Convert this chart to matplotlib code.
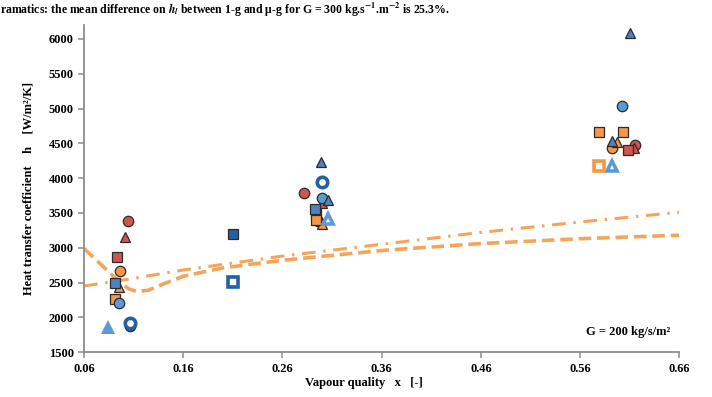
import matplotlib
matplotlib.use("Agg")
import matplotlib.pyplot as plt

plt.rcParams["font.family"] = ["Liberation Serif", "DejaVu Serif"]
plt.rcParams["font.weight"] = "bold"
plt.rcParams["mathtext.fontset"] = "stix"

# measured points: (vapour quality, h)
red_circle = ([0.104, 0.282, 0.615], [3390, 3790, 4480])
red_triangle = ([0.101, 0.300, 0.614], [3150, 3640, 4440])
red_square = ([0.093, 0.294, 0.608], [2870, 3480, 4410])
orange_circle = ([0.096, 0.296, 0.592], [2660, 3380, 4440])
orange_triangle = ([0.095, 0.300, 0.597], [2430, 3340, 4520])
orange_square = ([0.091, 0.294, 0.579, 0.603], [2270, 3400, 4660, 4670])
blue_square = ([0.091, 0.293], [2500, 3560])
blue_circle = ([0.095, 0.300, 0.602], [2200, 3710, 5040])
blue_triangle = ([0.299, 0.306, 0.592, 0.610], [4230, 3690, 4540, 6080])
navy_open_circle = ([0.106, 0.300], [1920, 3950])
navy_circle = ([0.106], [1870])
navy_square = ([0.210], [3200])
navy_open_square = ([0.210], [2510])
light_triangle = ([0.0845], [1860])
light_open_triangle = ([0.306, 0.592], [3410, 4180])
orange_open_square = ([0.579], [4180])

# model curves
dash_x = [0.06, 0.08, 0.095, 0.105, 0.113, 0.125, 0.14, 0.16, 0.20, 0.26, 0.36, 0.46, 0.56, 0.66]
dash_y = [2990, 2720, 2520, 2410, 2370, 2390, 2480, 2590, 2710, 2820, 2960, 3060, 3130, 3180]
dashdot_x = [0.06, 0.11, 0.16, 0.26, 0.36, 0.46, 0.56, 0.66]
dashdot_y = [2450, 2560, 2680, 2880, 3050, 3220, 3370, 3510]

x_ticks = [0.06, 0.16, 0.26, 0.36, 0.46, 0.56, 0.66]
y_ticks = [1500, 2000, 2500, 3000, 3500, 4000, 4500, 5000, 5500, 6000]

RED = "#cc5652"
ORANGE = "#f79646"
BLUE = "#4f81bd"
LIGHT = "#5b9bd5"
NAVY = "#2461a0"
EDGE = "#2b2b2b"
LINE = "#f5a55a"

fig = plt.figure(figsize=(7.12, 3.97), dpi=100)
ax = fig.add_axes([0.118, 0.113, 0.836, 0.824])

ax.plot(dash_x, dash_y, color=LINE, lw=2.6, dashes=(3.5, 1.6), zorder=1)
ax.plot(dashdot_x, dashdot_y, color=LINE, lw=2.2, dashes=(4.5, 2.5, 0.8, 2.5), zorder=1)

filled = [
    (red_circle, "o", RED), (red_triangle, "^", RED), (red_square, "s", RED),
    (orange_circle, "o", ORANGE), (orange_triangle, "^", ORANGE), (orange_square, "s", ORANGE),
    (blue_square, "s", BLUE), (blue_circle, "o", LIGHT), (blue_triangle, "^", BLUE),
    (navy_circle, "o", NAVY), (navy_square, "s", NAVY),
]
for (xs, ys), m, c in filled:
    ax.plot(xs, ys, ls="none", marker=m, ms=7.5,
            mfc=c, mec=EDGE, mew=0.9, zorder=3)

open_marks = [
    (navy_open_circle, "o", NAVY), (navy_open_square, "s", NAVY),
    (light_open_triangle, "^", LIGHT), (orange_open_square, "s", ORANGE),
]
for (xs, ys), m, c in open_marks:
    ax.plot(xs, ys, ls="none", marker=m, ms=7.5, mfc="white", mec=c, mew=2.6, zorder=3)

ax.plot(*light_triangle, ls="none", marker="^", ms=10, mfc=LIGHT, mec=LIGHT, mew=0, zorder=3)

ax.set_xlim(0.06, 0.66)
ax.set_ylim(1500, 6200)
ax.set_xticks(x_ticks)
ax.set_xticklabels([f"{v:.2f}" for v in x_ticks])
ax.set_yticks(y_ticks)
for s in ["top", "right"]:
    ax.spines[s].set_visible(False)
for s in ["left", "bottom"]:
    ax.spines[s].set_color("#8c8c8c")
    ax.spines[s].set_linewidth(1.3)
ax.tick_params(colors="#8c8c8c", labelcolor="black", labelsize=9, length=4, width=1.1)
for lab in ax.get_xticklabels() + ax.get_yticklabels():
    lab.set_fontweight("bold")

ax.set_xlabel("Vapour quality   x   [-]", fontsize=9, fontweight="bold", ha="left", va="center")
ax.xaxis.set_label_coords(0.371, -0.095)
ax.set_ylabel("Heat transfer coefficient    h    [W/m²/K]", fontsize=9, fontweight="bold", labelpad=10)

ax.text(0.651, 1790, "G = 200 kg/s/m²", ha="right", va="center",
        fontsize=9, fontweight="bold")

fig.text(0.0, 1 - 1 / 397,
         "ramatics: the mean difference on $h_l$ between 1-g and \u03bc-g for G = 300 kg.s$^{-1}$.m$^{-2}$ is 25.3%.",
         ha="left", va="top", fontsize=8.5, fontweight="bold")

fig.savefig("out.png", dpi=100)
